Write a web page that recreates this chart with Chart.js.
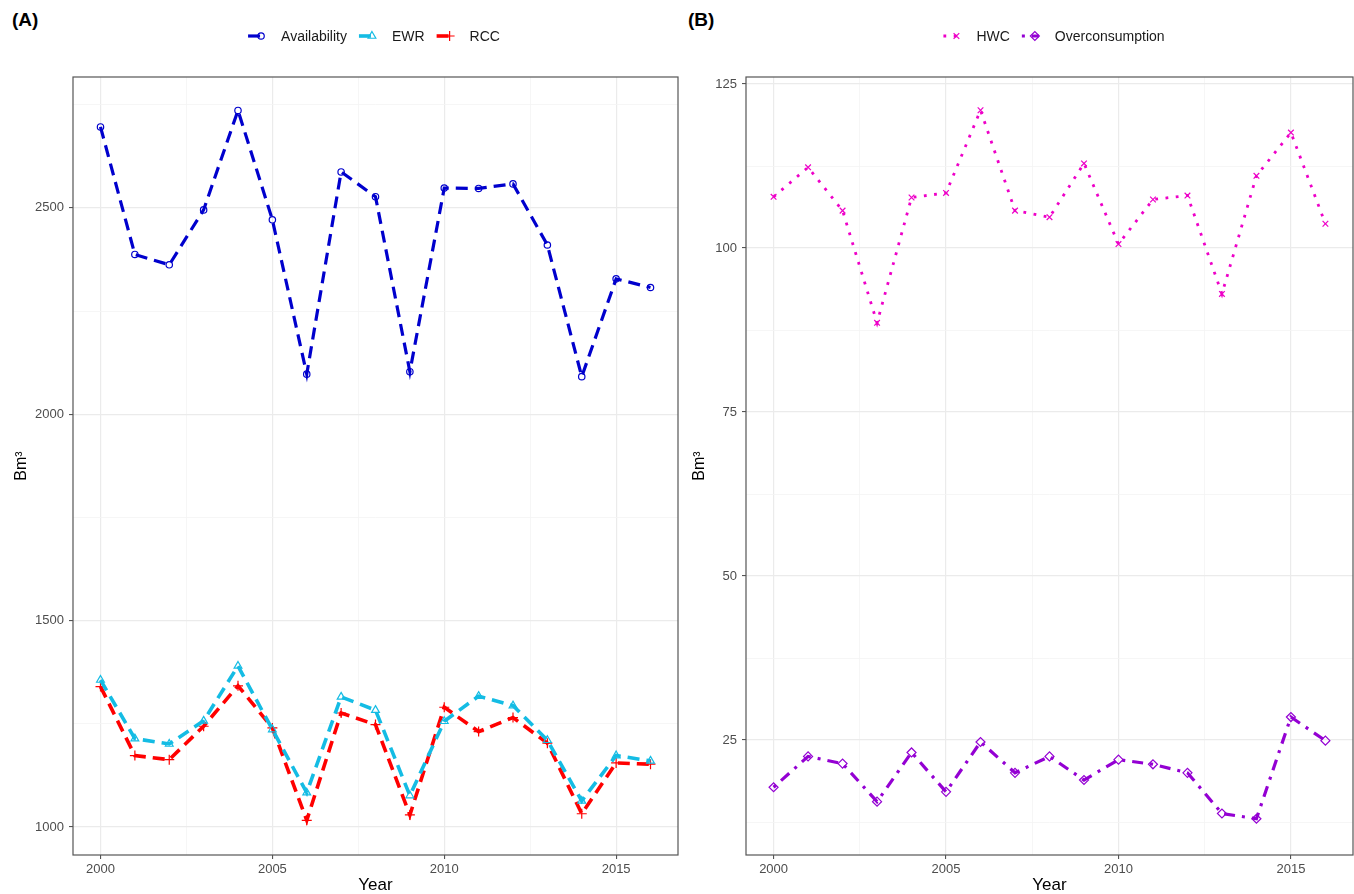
<!DOCTYPE html>
<html><head><meta charset="utf-8">
<script src="https://cdn.jsdelivr.net/npm/chart.js@4.4.0/dist/chart.umd.min.js"></script>
<style>
html,body{margin:0;padding:0;overflow:hidden;background:#fff;width:1354px;height:894px;}
canvas{position:absolute;top:0;}
#ca{left:0;}
#cb{left:680px;}
.lab{position:absolute;top:9px;font:bold 19px "Liberation Sans",Arial,sans-serif;color:#000;}
</style></head>
<body>
<div class="lab" style="left:12px">(A)</div>
<div class="lab" style="left:688px">(B)</div>
<canvas id="ca" width="680" height="900"></canvas>
<canvas id="cb" width="674" height="900"></canvas>
<script>
// ---- data ----
const years = [2000,2001,2002,2003,2004,2005,2006,2007,2008,2009,2010,2011,2012,2013,2014,2015,2016];
const availability = [2696,2387,2362,2495,2736,2471,2097,2587,2527,2103,2548,2547,2558,2410,2091,2328,2307];
const ewr = [1356,1214,1201,1257,1390,1236,1083,1315,1283,1076,1256,1317,1294,1210,1063,1173,1160];
const rcc = [1340,1173,1163,1244,1342,1240,1016,1276,1248,1029,1290,1231,1265,1203,1032,1155,1152];
const hwc = [107.8,112.3,105.7,88.6,107.7,108.4,121.0,105.7,104.7,112.9,100.6,107.4,108.0,93.0,111.0,117.6,103.7];
const overconsumption = [17.8,22.5,21.4,15.6,23.1,17.1,24.7,20.0,22.5,18.9,22.0,21.3,20.0,13.8,13.0,28.5,24.9];
const xMajorTicks = [2000,2005,2010,2015];
const xMinorTicks = [2002.5,2007.5,2012.5];
const yMajorTicksA = [1000,1500,2000,2500];
const yMinorTicksA = [1250,1750,2250,2750];
const yMajorTicksB = [25,50,75,100,125];
const yMinorTicksB = [12.5,37.5,62.5,87.5,112.5];

const FONT = '"Liberation Sans", Arial, sans-serif';
const pts = arr => years.map((x,i)=>({x:x,y:arr[i]}));

function boxPlugin(){
  return {id:'box', afterDraw(chart){
    const a = chart.chartArea, c = chart.ctx;
    c.save(); c.strokeStyle='#555'; c.lineWidth=1.2;
    c.strokeRect(a.left, a.top, a.right-a.left, a.bottom-a.top);
    c.restore();
  }};
}
function drawMarker(c, style, x, y, r, color){
  c.save(); c.setLineDash([]); c.strokeStyle=color; c.fillStyle='rgba(0,0,0,0)'; c.lineWidth=1.2;
  Chart.helpers.drawPoint(c, {pointStyle:style, radius:r, borderWidth:1.2, rotation:0}, x, y);
  c.restore();
}
function legendPlugin(centerX){
  return {id:'lg', afterDraw(chart){
    const c = chart.ctx; c.save();
    c.font = '14px '+FONT;
    const ds = chart.data.datasets;
    const keyW = 17, keyGap = 16, itemGap = 12;
    let total = 0;
    const widths = ds.map(d=>c.measureText(d.label).width);
    widths.forEach((w,i)=>{ total += keyW + keyGap + w + (i<ds.length-1?itemGap:0); });
    let x = centerX - total/2; const y = 36;
    ds.forEach((d,i)=>{
      c.save();
      c.strokeStyle = d.borderColor; c.lineWidth = d.borderWidth;
      c.setLineDash(d.borderDash||[]);
      c.beginPath(); c.moveTo(x, y); c.lineTo(x+keyW, y); c.stroke();
      c.restore();
      drawMarker(c, d.pointStyle, x+keyW-4, y, d.pointRadius, d.pointBorderColor||d.borderColor);
      c.fillStyle = '#1a1a1a'; c.textBaseline='middle'; c.textAlign='left';
      c.fillText(d.label, x+keyW+keyGap, y+1);
      x += keyW + keyGap + widths[i] + itemGap;
    });
    c.restore();
  }};
}
function xScale(){
  const majors = new Set(xMajorTicks);
  return {
    type:'linear', min:1999.2, max:2016.8,
    afterBuildTicks: s => { s.ticks = xMajorTicks.concat(xMinorTicks).sort((a,b)=>a-b).map(v=>({value:v})); },
    afterFit: s => { s.height = 45; s.paddingLeft = 0; s.paddingRight = 0; },
    ticks:{ autoSkip:false, maxRotation:0, padding:3, color:'#4D4D4D', font:{family:FONT,size:13},
      callback: v => majors.has(v) ? String(v) : '' },
    grid:{ drawTicks:true, tickLength:4,
      color: ctx => (ctx.tick && majors.has(ctx.tick.value)) ? '#EBEBEB' : '#F4F4F4',
      lineWidth: ctx => (ctx.tick && majors.has(ctx.tick.value)) ? 1.2 : 0.8,
      tickColor: ctx => (ctx.tick && majors.has(ctx.tick.value)) ? '#444' : 'rgba(0,0,0,0)',
      tickWidth: 1 },
    border:{display:false},
    title:{display:true, text:'Year', color:'#000', font:{family:FONT,size:17}, padding:{top:0,bottom:4}}
  };
}
function yScale(min,max,majorsArr,minorsArr,width,titlePad){
  const majors = new Set(majorsArr);
  return {
    type:'linear', min:min, max:max,
    afterBuildTicks: s => { s.ticks = majorsArr.concat(minorsArr).sort((a,b)=>a-b).map(v=>({value:v})); },
    afterFit: s => { s.width = width; s.paddingTop = 0; s.paddingBottom = 0; },
    ticks:{ autoSkip:false, padding:5, color:'#4D4D4D', font:{family:FONT,size:13},
      callback: v => majors.has(v) ? String(v) : '' },
    grid:{ drawTicks:true, tickLength:4,
      color: ctx => (ctx.tick && majors.has(ctx.tick.value)) ? '#EBEBEB' : '#F4F4F4',
      lineWidth: ctx => (ctx.tick && majors.has(ctx.tick.value)) ? 1.2 : 0.8,
      tickColor: ctx => (ctx.tick && majors.has(ctx.tick.value)) ? '#444' : 'rgba(0,0,0,0)',
      tickWidth: 1 },
    border:{display:false},
    title:{display:true, text:'Bm\u00B3', color:'#000', font:{family:FONT,size:16}, padding:{top:titlePad,bottom:0}}
  };
}
function ds(label, arr, color, width, dash, style, r){
  return {label:label, data:pts(arr), borderColor:color, borderWidth:width, borderDash:dash,
    borderCapStyle:'butt', tension:0, fill:false, clip:false,
    pointStyle:style, pointRadius:r, pointHoverRadius:r, pointBorderWidth:1.2,
    pointBorderColor:color, pointBackgroundColor:'rgba(0,0,0,0)'};
}
const common = {responsive:false, animation:false, devicePixelRatio:1,
  plugins:{legend:{display:false}, tooltip:{enabled:false}}};

new Chart(document.getElementById('ca'), {
  type:'line',
  data:{datasets:[
    ds('Availability', availability, '#0000CD', 3.2, [12,7], 'circle', 3.2),
    ds('EWR', ewr, '#14BCE4', 3.6, [12,7], 'triangle', 4.5),
    ds('RCC', rcc, '#FF0000', 3.6, [12,7], 'cross', 5)
  ]},
  options:Object.assign({}, common, {
    layout:{autoPadding:false, padding:{left:0,right:2,top:77,bottom:0}},
    scales:{x:xScale(), y:yScale(932,2817,yMajorTicksA,yMinorTicksA,73,12)}
  }),
  plugins:[boxPlugin(), legendPlugin(374)]
});

new Chart(document.getElementById('cb'), {
  type:'line',
  data:{datasets:[
    ds('HWC', hwc, '#EE00C8', 2.8, [2.8,7.5], 'crossRot', 4),
    ds('Overconsumption', overconsumption, '#9400D3', 3.2, [3,7,11,7], 'rectRot', 4.5)
  ]},
  options:Object.assign({}, common, {
    layout:{autoPadding:false, padding:{left:0,right:1,top:77,bottom:0}},
    scales:{x:xScale(), y:yScale(7.47,126.07,yMajorTicksB,yMinorTicksB,66,10)}
  }),
  plugins:[boxPlugin(), legendPlugin(374)]
});
</script>
</body></html>
